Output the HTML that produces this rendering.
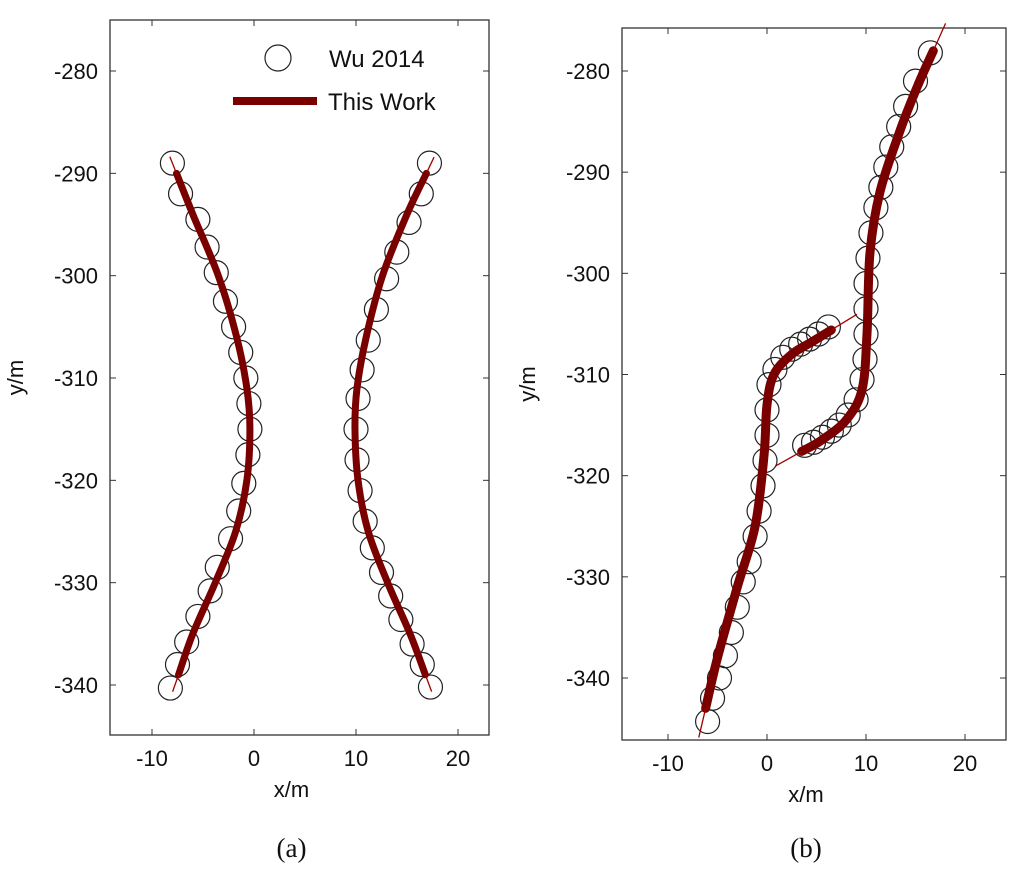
<!DOCTYPE html>
<html><head><meta charset="utf-8"><style>
body{margin:0;background:#fff;}
svg{display:block;font-family:"Liberation Sans",Arial,sans-serif;}
</style></head><body>
<svg id="chart" width="1024" height="876" viewBox="0 0 1024 876"></svg>
<script>
// ---- data ----
const aLeftCircles=[[-8,-289],[-7.2,-292],[-5.5,-294.5],[-4.6,-297.2],[-3.7,-299.7],[-2.8,-302.5],[-2,-305],[-1.3,-307.5],[-0.8,-310],[-0.5,-312.5],[-0.4,-315],[-0.6,-317.5],[-1,-320.3],[-1.5,-323],[-2.3,-325.7],[-3.6,-328.5],[-4.3,-330.8],[-5.5,-333.3],[-6.6,-335.8],[-7.5,-338],[-8.2,-340.3]];
const aRightCircles=[[17.2,-289],[16.4,-292],[15.2,-294.8],[14,-297.7],[13,-300.3],[12,-303.3],[11.2,-306.3],[10.6,-309.2],[10.2,-312],[10,-315],[10.1,-318],[10.4,-321],[10.9,-324],[11.6,-326.6],[12.5,-329],[13.4,-331.3],[14.4,-333.6],[15.5,-336],[16.5,-338],[17.3,-340.2]];
const aLeftLine=[[-7.6,-290],[-6,-294],[-3.5,-300],[-1.7,-306],[-0.7,-311],[-0.4,-315],[-0.7,-320],[-1.8,-325],[-3.8,-330],[-6,-335],[-7.4,-339]];
const aRightLine=[[16.9,-290],[15,-294],[12.6,-300],[11,-306],[10.1,-311],[9.9,-315],[10.2,-320],[11.2,-325],[13.1,-330],[15.3,-335],[16.8,-339]];
const bCirclesA=[[-6,-344.3],[-5.5,-342],[-4.8,-340],[-4.2,-337.8],[-3.6,-335.5],[-3,-333],[-2.4,-330.5],[-1.8,-328.5],[-1.2,-326],[-0.8,-323.5],[-0.4,-321],[-0.2,-318.5],[0,-316],[0,-313.5],[0.2,-311],[0.8,-309.5],[1.6,-308.3],[2.5,-307.5],[3.4,-307],[4.3,-306.5],[5.2,-306],[6.2,-305.3]];
const bCirclesB=[[3.8,-317],[4.7,-316.7],[5.6,-316.2],[6.5,-315.6],[7.3,-315],[8.2,-314],[9,-312.5],[9.6,-310.5],[9.9,-308.5],[10,-306],[10,-303.5],[10,-301],[10.2,-298.5],[10.5,-296],[11,-293.5],[11.5,-291.5],[12,-289.5],[12.6,-287.5],[13.3,-285.5],[14,-283.5],[15,-281],[16.5,-278.2]];
const bLineA=[[-6.2,-343],[-5,-338],[-3,-331],[-1.2,-325],[-0.3,-318],[0,-313],[0.7,-310],[2.5,-308],[4.5,-306.8],[6.5,-305.6]];
const bLineB=[[3.5,-317.6],[5.5,-316.5],[8,-314.5],[9.6,-311.5],[10.1,-306],[10.4,-298],[11.4,-292],[13.4,-286],[15.2,-281.5],[16.8,-278]];
const xTicks=[-10,0,10,20];
const aYTicks=[-280,-290,-300,-310,-320,-330,-340];
const bYTicks=[-280,-290,-300,-310,-320,-330,-340];

const NS="http://www.w3.org/2000/svg";
const svg=document.getElementById('chart');
function mk(t,at,p){const e=document.createElementNS(NS,t);for(const k in at)e.setAttribute(k,at[k]);(p||svg).appendChild(e);return e;}
function smooth(P){
  let d='M'+P[0][0]+','+P[0][1];
  for(let i=0;i<P.length-1;i++){
    const p0=P[Math.max(i-1,0)],p1=P[i],p2=P[i+1],p3=P[Math.min(i+2,P.length-1)];
    const c1=[p1[0]+(p2[0]-p0[0])/6,p1[1]+(p2[1]-p0[1])/6];
    const c2=[p2[0]-(p3[0]-p1[0])/6,p2[1]-(p3[1]-p1[1])/6];
    d+=' C'+c1[0]+','+c1[1]+' '+c2[0]+','+c2[1]+' '+p2[0]+','+p2[1];
  }
  return d;
}
function ext(a,b,len){const dx=a[0]-b[0],dy=a[1]-b[1],l=Math.hypot(dx,dy)||1;return [a[0]+dx/l*len,a[1]+dy/l*len];}

function panel(cfg){
  const g=mk('g',{});
  
  
  const X=v=>cfg.x0+(v-cfg.xa)*(cfg.x1-cfg.x0)/(cfg.xb-cfg.xa);
  const Y=v=>cfg.y0+(v-cfg.ya)*(cfg.y1-cfg.y0)/(cfg.yb-cfg.ya);
  const L=cfg.left,R=cfg.right,T=cfg.top,B=cfg.bottom;
  const box=mk('rect',{x:L,y:T,width:R-L,height:B-T,fill:'none',stroke:'#333','stroke-width':1.3},g);
  
  
  xTicks.forEach(v=>{
    const x=X(v);
    mk('line',{x1:x,x2:x,y1:B,y2:B-6,stroke:'#333'},g);
    mk('line',{x1:x,x2:x,y1:T,y2:T+6,stroke:'#333'},g);
    const t=mk('text',{x:x,y:B+31,'font-size':22,'text-anchor':'middle',fill:'#111'},g);
    t.textContent=v;
    
    
  });
  cfg.yt.forEach(v=>{
    const y=Y(v);
    mk('line',{x1:L,x2:L+6,y1:y,y2:y,stroke:'#333'},g);
    mk('line',{x1:R,x2:R-6,y1:y,y2:y,stroke:'#333'},g);
    const t=mk('text',{x:L-12,y:y+8,'font-size':22,'text-anchor':'end',fill:'#111'},g);
    t.textContent=v;
    
    
  });
  const xl=mk('text',{x:(L+R)/2-8,y:B+62,'font-size':22,'text-anchor':'middle',fill:'#111'},g);
  xl.textContent='x/m';
  
  
  const yl=mk('text',{x:0,y:0,'font-size':22,'text-anchor':'middle',fill:'#111',transform:`translate(${L-87},${(T+B)/2}) rotate(-90)`},g);
  yl.textContent='y/m';
  
  
  const cap=mk('text',{x:(L+R)/2-8,y:cfg.capY,'font-size':27,'text-anchor':'middle',fill:'#111','font-family':'Liberation Serif, serif'},g);
  cap.textContent=cfg.cap;
  
  
  cfg.circles.forEach(arr=>arr.forEach(p=>{
    const c=mk('circle',{cx:X(p[0]),cy:Y(p[1]),r:12,fill:'none',stroke:'#222','stroke-width':1.2},g);
    
    
  }));
  cfg.lines.forEach(arr=>{
    const P=arr.map(p=>[X(p[0]),Y(p[1])]);
    const th=mk('path',{d:smooth(P),fill:'none',stroke:'#7a0000','stroke-width':cfg.lw,'stroke-linejoin':'round','stroke-linecap':'round'},g);
    
    
    const s=ext(P[0],P[1],cfg.tail),e=ext(P[P.length-1],P[P.length-2],cfg.tail);
    mk('line',{x1:P[0][0],y1:P[0][1],x2:s[0],y2:s[1],stroke:'#a00000','stroke-width':1.3},g);
    mk('line',{x1:P[P.length-1][0],y1:P[P.length-1][1],x2:e[0],y2:e[1],stroke:'#a00000','stroke-width':1.3},g);
  });
  return g;
}
panel({name:'panel-a',left:110,right:489,top:20,bottom:735,x0:152,x1:458,xa:-10,xb:20,y0:71,y1:685,ya:-280,yb:-340,yt:aYTicks,cap:'(a)',capY:857,lw:7,tail:18,
  circles:[aLeftCircles,aRightCircles],lines:[aLeftLine,aRightLine]});
panel({name:'panel-b',left:622,right:1006,top:28,bottom:740,x0:668,x1:965,xa:-10,xb:20,y0:71,y1:678,ya:-280,yb:-340,yt:bYTicks,cap:'(b)',capY:857,lw:9,tail:30,
  circles:[bCirclesA,bCirclesB],lines:[bLineA,bLineB]});
// legend
const lg=mk('g',{});


const lc=mk('circle',{cx:278,cy:58,r:13,fill:'none',stroke:'#222','stroke-width':1.2},lg);


const lt1=mk('text',{x:329,y:67,'font-size':24,fill:'#111'},lg);
lt1.textContent='Wu 2014';


const ll=mk('line',{x1:233,x2:317,y1:101,y2:101,stroke:'#7a0000','stroke-width':8},lg);


const lt2=mk('text',{x:328,y:110,'font-size':24,fill:'#111'},lg);
lt2.textContent='This Work';


</script>
</body></html>
